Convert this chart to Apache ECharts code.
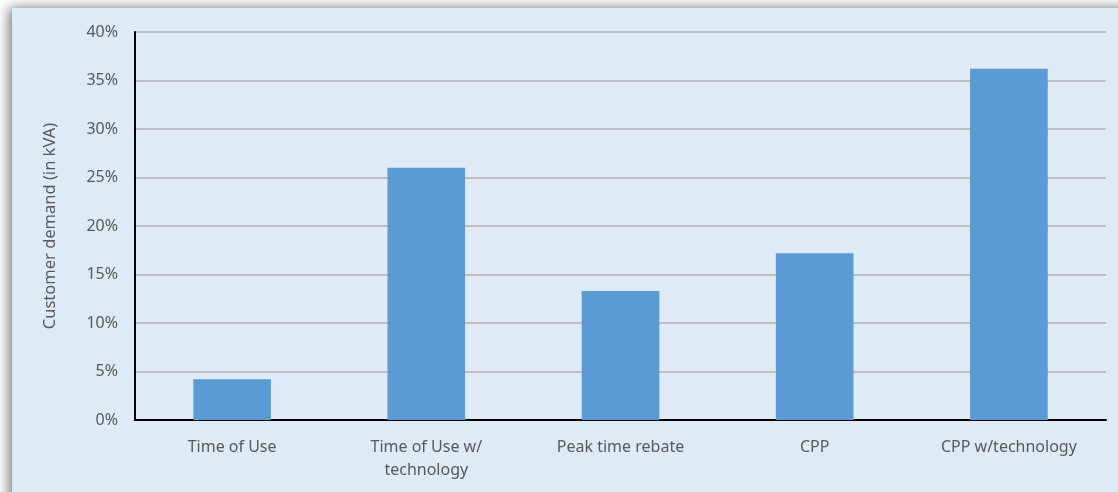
<!DOCTYPE html>
<html>
<head>
<meta charset="utf-8">
<style>
  html, body { margin: 0; padding: 0; background: #ffffff; }
  #chart { width: 1118px; height: 492px; }
</style>
<script src="https://cdn.jsdelivr.net/npm/echarts@6/dist/echarts.min.js"></script>
</head>
<body>
<div id="chart"></div>
<script>
// Demand reduction by pricing program
const categories = ['Time of Use', 'Time of Use w/\ntechnology', 'Peak time rebate', 'CPP', 'CPP w/technology'];
const demandReduction = [4.2, 26.0, 13.3, 17.2, 36.2];
const yTicks = { min: 0, max: 40, interval: 5 };

const textColor = '#595959';
const fontFamily = '"Noto Sans", "Open Sans", sans-serif';

const chart = echarts.init(document.getElementById('chart'), null, { renderer: 'canvas' });

chart.setOption({
  animation: false,
  backgroundColor: '#ffffff',
  graphic: [{
    type: 'rect',
    z: -10,
    silent: true,
    shape: { x: 12, y: 8, width: 1120, height: 500 },
    style: {
      fill: '#deeaf6',
      shadowBlur: 12,
      shadowOffsetX: -3,
      shadowOffsetY: 0,
      shadowColor: 'rgba(0,0,0,0.55)'
    }
  }],
  grid: { left: 135, right: 12, top: 32, bottom: 72, containLabel: false },
  xAxis: {
    type: 'category',
    data: categories,
    axisLine: { show: true, lineStyle: { color: '#000000', width: 2 } },
    axisTick: { show: false },
    axisLabel: {
      color: textColor,
      fontFamily: fontFamily,
      fontSize: 16,
      margin: 16,
      lineHeight: 23,
      interval: 0
    },
    splitLine: { show: false }
  },
  yAxis: {
    type: 'value',
    min: yTicks.min,
    max: yTicks.max,
    interval: yTicks.interval,
    name: 'Customer demand (in kVA)',
    nameLocation: 'middle',
    nameGap: 76,
    nameTextStyle: { color: textColor, fontFamily: fontFamily, fontSize: 16.5 },
    axisLine: { show: true, lineStyle: { color: '#000000', width: 2 } },
    axisTick: { show: false },
    axisLabel: {
      color: textColor,
      fontFamily: fontFamily,
      fontSize: 16,
      margin: 17,
      formatter: '{value}%'
    },
    splitLine: { show: true, lineStyle: { color: '#bfbfbf', width: 2 } }
  },
  series: [{
    type: 'bar',
    data: demandReduction,
    barWidth: '40%',
    itemStyle: { color: '#5b9bd5' },
    z: 3
  }]
});
</script>
</body>
</html>
